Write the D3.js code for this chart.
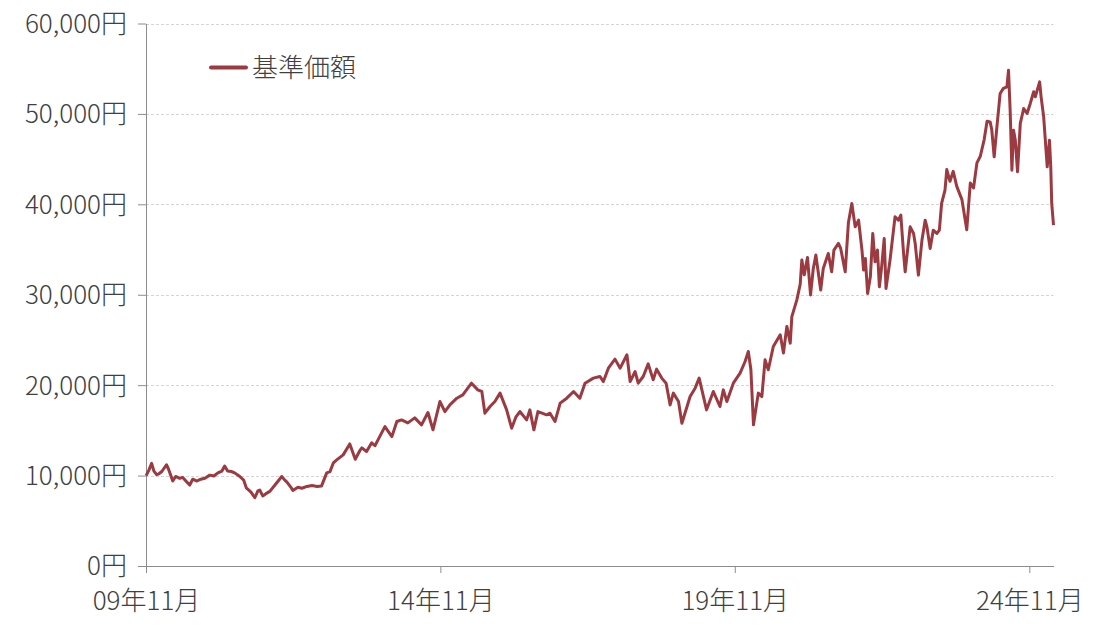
<!DOCTYPE html>
<html lang="ja">
<head>
<meta charset="utf-8">
<script src="https://cdn.jsdelivr.net/npm/d3@7"></script>
<style>
  html, body { margin: 0; padding: 0; background: #fff; }
  svg { display: block; }
  text { font-family: "Noto Sans CJK JP", "Noto Sans", sans-serif; fill: #404040; }
</style>
</head>
<body>
<svg id="chart" width="1109" height="628"></svg>
<script>
// ---- data ----
const seriesName = "基準価額";
const dates = [
  "2009-11-02","2009-11-19","2009-12-06","2009-12-20","2010-01-06","2010-01-20","2010-02-07","2010-03-08","2010-03-21","2010-04-16",
  "2010-05-04","2010-05-29","2010-06-17","2010-07-12","2010-07-30","2010-08-18","2010-09-13","2010-10-07","2010-11-01","2010-12-02",
  "2010-12-27","2011-01-21","2011-02-15","2011-03-04","2011-03-22","2011-04-14","2011-05-05","2011-06-06","2011-06-30","2011-07-16",
  "2011-08-13","2011-09-07","2011-09-26","2011-10-08","2011-10-26","2011-11-15","2011-12-09","2012-01-20","2012-02-21","2012-03-11",
  "2012-03-23","2012-04-18","2012-04-30","2012-05-31","2012-06-25","2012-07-26","2012-08-27","2012-09-27","2012-10-25","2012-11-26",
  "2012-12-16","2013-01-06","2013-01-27","2013-03-08","2013-04-18","2013-05-22","2013-06-19","2013-07-02","2013-07-31","2013-09-01",
  "2013-09-21","2013-10-10","2013-11-22","2014-01-04","2014-02-04","2014-03-05","2014-04-13","2014-05-26","2014-07-07","2014-08-16",
  "2014-09-16","2014-10-29","2014-11-29","2014-12-30","2015-02-11","2015-03-20","2015-05-13","2015-06-21","2015-07-16","2015-08-04",
  "2015-09-05","2015-10-05","2015-11-06","2015-12-17","2016-01-17","2016-02-13","2016-03-08","2016-04-19","2016-05-09","2016-06-03",
  "2016-06-28","2016-08-21","2016-09-11","2016-10-12","2016-11-13","2016-12-24","2017-02-04","2017-03-15","2017-04-16","2017-06-07",
  "2017-07-18","2017-08-08","2017-09-08","2017-10-19","2017-11-20","2018-01-01","2018-01-21","2018-02-21","2018-03-12","2018-04-12",
  "2018-05-13","2018-06-13","2018-07-04","2018-08-05","2018-09-01","2018-09-26","2018-10-16","2018-11-17","2018-12-08","2019-01-28",
  "2019-02-28","2019-03-25","2019-05-10","2019-06-21","2019-08-01","2019-08-22","2019-09-13","2019-10-23","2019-12-04","2020-01-04",
  "2020-01-24","2020-02-09","2020-02-25","2020-03-26","2020-04-17","2020-05-07","2020-05-27","2020-06-27","2020-08-09","2020-08-29",
  "2020-09-19","2020-10-10","2020-10-20","2020-11-20","2020-12-11","2020-12-21","2021-01-05","2021-01-25","2021-02-13","2021-03-02",
  "2021-03-18","2021-04-17","2021-05-03","2021-06-03","2021-06-24","2021-07-08","2021-08-05","2021-08-19","2021-09-16","2021-10-06",
  "2021-10-27","2021-11-17","2021-12-08","2021-12-29","2022-01-08","2022-01-19","2022-02-02","2022-02-19","2022-03-06","2022-03-20",
  "2022-04-04","2022-04-16","2022-04-30","2022-05-16","2022-05-27","2022-06-21","2022-07-22","2022-08-12","2022-08-27","2022-09-13",
  "2022-09-23","2022-10-24","2022-11-14","2022-11-24","2022-12-14","2023-01-05","2023-01-25","2023-02-05","2023-02-25","2023-03-16",
  "2023-04-07","2023-04-23","2023-05-07","2023-05-28","2023-06-08","2023-06-28","2023-07-18","2023-08-09","2023-09-10","2023-10-10",
  "2023-11-01","2023-11-21","2023-12-12","2024-01-02","2024-01-26","2024-02-13","2024-03-03","2024-03-13","2024-03-28","2024-04-14",
  "2024-05-04","2024-05-24","2024-06-15","2024-06-25","2024-07-05","2024-07-16","2024-07-26","2024-08-06","2024-08-20","2024-09-06",
  "2024-09-27","2024-10-18","2024-11-07","2024-11-28","2024-12-08","2025-01-04","2025-01-13","2025-01-29","2025-02-20","2025-03-06",
  "2025-03-14","2025-03-20","2025-03-31"
];
const navValues = [
  10000,10600,11350,10500,10100,10200,10450,11200,10700,9400,
  9900,9700,9800,9300,8950,9600,9400,9600,9700,10050,
  9950,10300,10500,11050,10500,10450,10300,9900,9500,8650,
  8200,7550,8300,8400,7750,8000,8250,9180,9900,9500,
  9300,8700,8350,8700,8600,8800,8900,8800,8860,10300,
  10440,11400,11730,12290,13500,11800,12750,13060,12660,13620,
  13300,13950,15420,14310,15980,16160,15830,16380,15610,16980,
  15060,18190,17080,17820,18560,18930,20220,19480,19300,16900,
  17640,18190,19120,17270,15240,16500,17080,16160,17270,15060,
  17080,16720,16900,15980,18010,18560,19300,18560,20220,20780,
  20960,20400,21880,22880,21880,23360,20400,21510,20220,20960,
  22360,20590,21770,20780,20220,17820,19120,18190,15790,18740,
  19670,20780,17270,19300,17640,19480,18190,20220,21330,22620,
  23720,21700,15610,19120,18740,22800,21700,24280,25570,23550,
  26500,24650,27580,29430,31180,33850,32200,34130,29980,32900,
  34400,30530,32910,34570,32540,34940,35680,35120,32540,38000,
  40100,37510,38250,34940,32730,34020,30150,31990,36780,33640,
  34940,30880,33090,36230,30700,33830,38620,38250,38800,34570,
  32540,37510,36780,35680,32170,36040,38250,37510,35120,37140,
  36780,37140,40100,41570,43840,42550,43650,41990,40520,37200,
  42360,41810,44580,45320,47160,49190,49120,48270,45250,48570,
  52260,52820,53000,54840,50440,43780,48200,47100,43600,48950,
  50600,50050,51160,52450,51890,53550,51890,49680,44150,47100,
  44150,40100,37700
];
const yTicks = [0, 10000, 20000, 30000, 40000, 50000, 60000];
const xTickDates = ["2009-11-01", "2014-11-01", "2019-11-01", "2024-11-01"];
const xTickLabels = ["09年11月", "14年11月", "19年11月", "24年11月"];
const domainDates = ["2009-11-01", "2025-03-31"];

// ---- drawing ----
(function () {
const parse = d3.timeParse("%Y-%m-%d");
const data = dates.map((d, i) => ({ date: parse(d), value: navValues[i] }));

const svg = d3.select("#chart");
svg.append("rect").attr("width", 1109).attr("height", 628).attr("fill", "#fff");

const plotLeft = 146, plotRight = 1053.5, plotTop = 23.5, plotBottom = 566;

const x = d3.scaleTime().domain(domainDates.map(parse)).range([plotLeft, plotRight]);
const y = d3.scaleLinear().domain([0, 60000]).range([plotBottom, plotTop]);

// gridlines
svg.append("g")
  .selectAll("line")
  .data(yTicks.filter(v => v > 0))
  .join("line")
  .attr("x1", plotLeft).attr("x2", plotRight)
  .attr("y1", d => Math.round(y(d)) + 0.5).attr("y2", d => Math.round(y(d)) + 0.5)
  .attr("stroke", "#d4d4d4").attr("stroke-width", 1).attr("stroke-dasharray", "3,2");

const axisColor = "#8c8c8c";
const fontSize = 26;

// y axis
const yAxis = svg.append("g")
  .attr("transform", `translate(${plotLeft},0)`)
  .call(d3.axisLeft(y).tickValues(yTicks).tickSize(8).tickSizeOuter(0).tickPadding(11)
    .tickFormat(d => d3.format(",")(d) + "円"));
yAxis.select(".domain").attr("stroke", axisColor);
yAxis.selectAll(".tick line").attr("stroke", axisColor);
yAxis.selectAll(".tick text")
  .attr("font-size", fontSize).attr("font-family", null).attr("fill", "#404040")
  .attr("font-weight", 300).attr("dy", "0.34em");

// x axis
const xAxis = svg.append("g")
  .attr("transform", `translate(0,${plotBottom})`)
  .call(d3.axisBottom(x).tickValues(xTickDates.map(parse)).tickSize(7).tickSizeOuter(0)
    .tickFormat((d, i) => xTickLabels[i]));
xAxis.select(".domain").attr("stroke", axisColor);
xAxis.selectAll(".tick line").attr("stroke", axisColor);
xAxis.selectAll(".tick text")
  .attr("font-size", fontSize).attr("font-family", null).attr("fill", "#404040")
  .attr("font-weight", 300).attr("y", 44).attr("dy", 0);

// line
const lineColor = "#9b3a41";
svg.append("path")
  .datum(data)
  .attr("fill", "none")
  .attr("stroke", lineColor)
  .attr("stroke-width", 3)
  .attr("stroke-linejoin", "round")
  .attr("d", d3.line().x(d => x(d.date)).y(d => y(d.value)));

// legend
const legend = svg.append("g");
legend.append("line")
  .attr("x1", 211).attr("x2", 246).attr("y1", 67.5).attr("y2", 67.5)
  .attr("stroke", lineColor).attr("stroke-width", 4).attr("stroke-linecap", "round");
legend.append("text")
  .attr("x", 252).attr("y", 68).attr("dy", "0.36em")
  .attr("font-size", fontSize).attr("font-weight", 300)
  .text(seriesName);
})();
</script>
</body>
</html>
